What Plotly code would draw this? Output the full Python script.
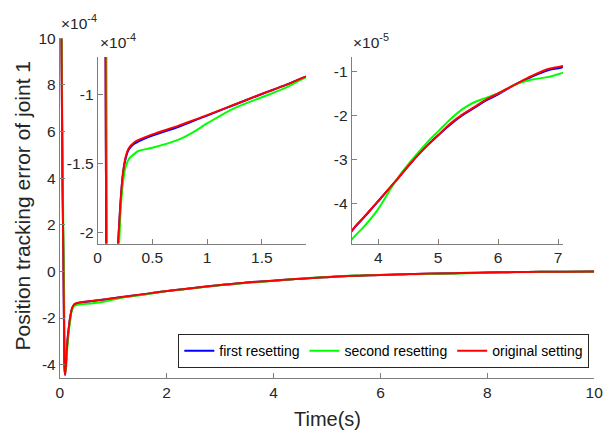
import plotly.graph_objects as go
import numpy as np

# ---- data (values in units of 1e-4) ----
time_s = [0, 0.03, 0.05, 0.065, 0.075, 0.082, 0.09, 0.1, 0.115, 0.13, 0.15, 0.17,
          0.186, 0.2, 0.21, 0.23, 0.254, 0.284, 0.33, 0.374, 0.5, 0.734, 0.87, 1.0,
          1.245, 1.5, 1.72, 1.9, 2.3, 2.7, 3.1, 3.554, 3.77, 3.99, 4.29, 4.53, 4.81,
          5.0, 5.19, 5.4, 5.6, 5.8, 6.0, 6.28, 6.55, 6.82, 7.06, 7.5, 8.0, 8.5, 9.0, 9.5, 10]

original_e4 = [25, 10.5, 4.0, 1.0, -1.4, -3.0, -4.2, -4.43, -4.0, -3.4, -2.8, -2.4,
               -2.09, -1.9, -1.77, -1.58, -1.46, -1.39, -1.35, -1.33, -1.29, -1.228, -1.188, -1.15,
               -1.074, -0.995, -0.93, -0.87, -0.76, -0.66, -0.565, -0.462, -0.429, -0.3955, -0.349, -0.310, -0.269,
               -0.245, -0.220, -0.198, -0.181, -0.164, -0.150, -0.130, -0.111, -0.095, -0.088, -0.07, -0.045, -0.028, -0.016, -0.008, -0.003]

first_e4 = [25, 10.5, 4.0, 1.0, -1.4, -3.0, -4.2, -4.43, -4.0, -3.4, -2.8, -2.4,
            -2.09, -1.9, -1.77, -1.585, -1.47, -1.40, -1.36, -1.34, -1.298, -1.236, -1.193, -1.153,
            -1.076, -0.996, -0.93, -0.87, -0.76, -0.66, -0.565, -0.463, -0.43, -0.396, -0.349, -0.310, -0.269,
            -0.245, -0.222, -0.200, -0.183, -0.166, -0.152, -0.130, -0.113, -0.098, -0.091, -0.072, -0.046, -0.028, -0.016, -0.008, -0.003]

second_e4 = [25, 11.5, 5.5, 2.2, 0.2, -1.2, -2.9, -3.9, -4.25, -3.7, -3.0, -2.55,
             -2.25, -2.02, -1.84, -1.65, -1.53, -1.47, -1.435, -1.41, -1.387, -1.33, -1.275, -1.21,
             -1.10, -1.02, -0.95, -0.876, -0.77, -0.67, -0.575, -0.482, -0.451, -0.414, -0.349, -0.306, -0.262,
             -0.236, -0.210, -0.186, -0.170, -0.160, -0.150, -0.130, -0.119, -0.113, -0.104, -0.085, -0.055, -0.032, -0.018, -0.009, -0.004]

series_names = ["first resetting", "second resetting", "original setting"]
series_colors = ["#0000FF", "#00FF00", "#FF0000"]

main_xticks = [0, 2, 4, 6, 8, 10]
main_yticks = [-4, -2, 0, 2, 4, 6, 8, 10]            # x1e-4
inset1_xticks = [0, 0.5, 1, 1.5]
inset1_yticks = [-2, -1.5, -1]                        # x1e-4
inset2_xticks = [4, 5, 6, 7]
inset2_yticks = [-4, -3, -2, -1]                      # x1e-5

t = np.array(time_s)
ys = [np.array(first_e4) * 1e-4, np.array(second_e4) * 1e-4, np.array(original_e4) * 1e-4]

W, H = 613, 434
FONT = "Liberation Sans, Arial, Helvetica, sans-serif"
TXT = "#262626"
AX = "#7f7f7f"

fig = go.Figure()
for k, (xa, ya) in enumerate([("x", "y"), ("x2", "y2"), ("x3", "y3")]):
    for i in range(3):
        fig.add_trace(go.Scatter(
            x=t, y=ys[i], mode="lines", name=series_names[i],
            line=dict(color=series_colors[i], width=2, shape="spline", smoothing=1.0),
            xaxis=xa, yaxis=ya, showlegend=(k == 0), cliponaxis=True))


def ax_style(**kw):
    d = dict(showline=True, linecolor=AX, linewidth=1, ticks="inside", ticklen=5,
             tickcolor=AX, showgrid=False, zeroline=False, mirror=False,
             tickfont=dict(family=FONT, size=15.5, color=TXT))
    d.update(kw)
    return d


def px_x(p):
    return p / W


def px_y(p):
    return 1 - p / H


fig.update_layout(
    width=W, height=H, margin=dict(l=0, r=0, t=0, b=0),
    paper_bgcolor="white", plot_bgcolor="white",
    font=dict(family=FONT, color=TXT),
    xaxis=ax_style(domain=[px_x(57), px_x(603)], range=[0, 10], anchor="y",
                   tickvals=main_xticks, ticktext=[str(v) for v in main_xticks]),
    yaxis=ax_style(domain=[px_y(377), px_y(30)], range=[-4.58e-4, 10e-4], anchor="x",
                   tickvals=[v * 1e-4 for v in main_yticks], ticktext=[str(v) for v in main_yticks]),
    xaxis2=ax_style(domain=[px_x(95.7), px_x(308.5)], range=[0, 1.903], anchor="y2",
                    tickvals=inset1_xticks, ticktext=["0", "0.5", "1", "1.5"]),
    yaxis2=ax_style(domain=[px_y(239.5), px_y(49)], range=[-2.083e-4, -0.727e-4], anchor="x2",
                    tickvals=[v * 1e-4 for v in inset1_yticks], ticktext=["-2", "-1.5", "-1"]),
    xaxis3=ax_style(domain=[px_x(355.3), px_x(571)], range=[3.559, 7.08], anchor="y3",
                    tickvals=inset2_xticks, ticktext=[str(v) for v in inset2_xticks]),
    yaxis3=ax_style(domain=[px_y(239.5), px_y(49)], range=[-4.904e-5, -0.673e-5], anchor="x3",
                    tickvals=[v * 1e-5 for v in inset2_yticks], ticktext=[str(v) for v in inset2_yticks]),
    legend=dict(orientation="h", x=px_x(598), xanchor="right", y=px_y(332), yanchor="top",
                bgcolor="white", bordercolor=TXT, borderwidth=1,
                font=dict(family=FONT, size=14, color="#000000")),
    showlegend=True,
)

annotations = [
    dict(text="×10<sup>-4</sup>", x=px_x(56), y=px_y(26), xanchor="left", yanchor="bottom"),
    dict(text="×10<sup>-4</sup>", x=px_x(96), y=px_y(45), xanchor="left", yanchor="bottom"),
    dict(text="×10<sup>-5</sup>", x=px_x(355), y=px_y(45), xanchor="left", yanchor="bottom"),
]
for a in annotations:
    a.update(xref="paper", yref="paper", showarrow=False,
             font=dict(family=FONT, size=15.5, color=TXT))
    fig.add_annotation(**a)

fig.add_annotation(text="Time(s)", x=px_x(330), y=px_y(419), xref="paper", yref="paper",
                   showarrow=False, xanchor="center", yanchor="middle",
                   font=dict(family=FONT, size=20, color=TXT))
fig.add_annotation(text="Position tracking error of joint 1", x=px_x(19), y=px_y(201),
                   xref="paper", yref="paper", showarrow=False, textangle=-90,
                   xanchor="center", yanchor="middle",
                   font=dict(family=FONT, size=21, color=TXT))

fig.write_html("out.html")
